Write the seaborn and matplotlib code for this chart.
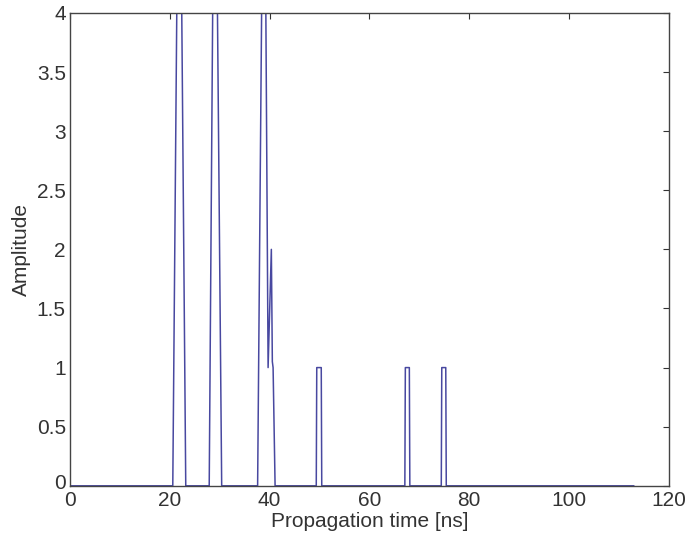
import matplotlib
matplotlib.use("Agg")
import matplotlib.pyplot as plt
import matplotlib.transforms as mtransforms
import seaborn as sns
import pandas as pd

# Data (time in ns, amplitude)
time_ns = [0, 20.6, 21.6, 22.2, 23.2,
           27.9, 28.8, 29.3, 30.4,
           37.6, 38.6, 39.1, 39.7, 40.35, 40.55, 40.7, 41.1,
           49.35, 49.45, 50.35, 50.45,
           67.1, 67.2, 68.0, 68.1,
           74.4, 74.5, 75.3, 75.4,
           113]
amplitude = [0, 0, 5, 5, 0,
             0, 5.2, 5.2, 0,
             0, 5, 5, 1, 2, 1.05, 1, 0,
             0, 1, 1, 0,
             0, 1, 1, 0,
             0, 1, 1, 0,
             0]

x_ticks = [0, 20, 40, 60, 80, 100, 120]
y_ticks = [0, 0.5, 1, 1.5, 2, 2.5, 3, 3.5, 4]
y_tick_labels = ["0", "0.5", "1", "1.5", "2", "2.5", "3", "3.5", "4"]

df = pd.DataFrame({"t": time_ns, "a": amplitude})

sns.set_style("white")
plt.rcParams["font.family"] = ["Liberation Sans", "DejaVu Sans"]

fig = plt.figure(figsize=(6.86, 5.38), dpi=100)
ax = fig.add_axes([0.102, 0.097, 0.873, 0.879])

sns.lineplot(data=df, x="t", y="a", sort=False, estimator=None,
             color="#4848a0", lw=1.1, ax=ax)

ax.set_xlim(0, 120)
ax.set_ylim(0, 4)
ax.set_xticks(x_ticks)
ax.set_xticklabels([str(v) for v in x_ticks])
ax.set_yticks(y_ticks)
ax.set_yticklabels(y_tick_labels)
ax.tick_params(direction="in", length=4, width=0.8, top=True, right=True,
               labelsize=15, colors="#333333")
ax.tick_params(axis="x", pad=4)
ax.tick_params(axis="y", pad=3)
# lift the bottom y label by a few pixels so the two zeros don't collide
lbl0 = ax.get_yticklabels()[0]
lbl0.set_transform(lbl0.get_transform() +
                   mtransforms.ScaledTranslation(0, 4 / 100, fig.dpi_scale_trans))
for s in ax.spines.values():
    s.set_visible(True)
    s.set_color("#444444")
    s.set_linewidth(1.0)
ax.set_xlabel("Propagation time [ns]", fontsize=15, color="#333333", labelpad=1)
ax.set_ylabel("Amplitude", fontsize=15, color="#333333", labelpad=4)

fig.savefig("out.png", dpi=100)
